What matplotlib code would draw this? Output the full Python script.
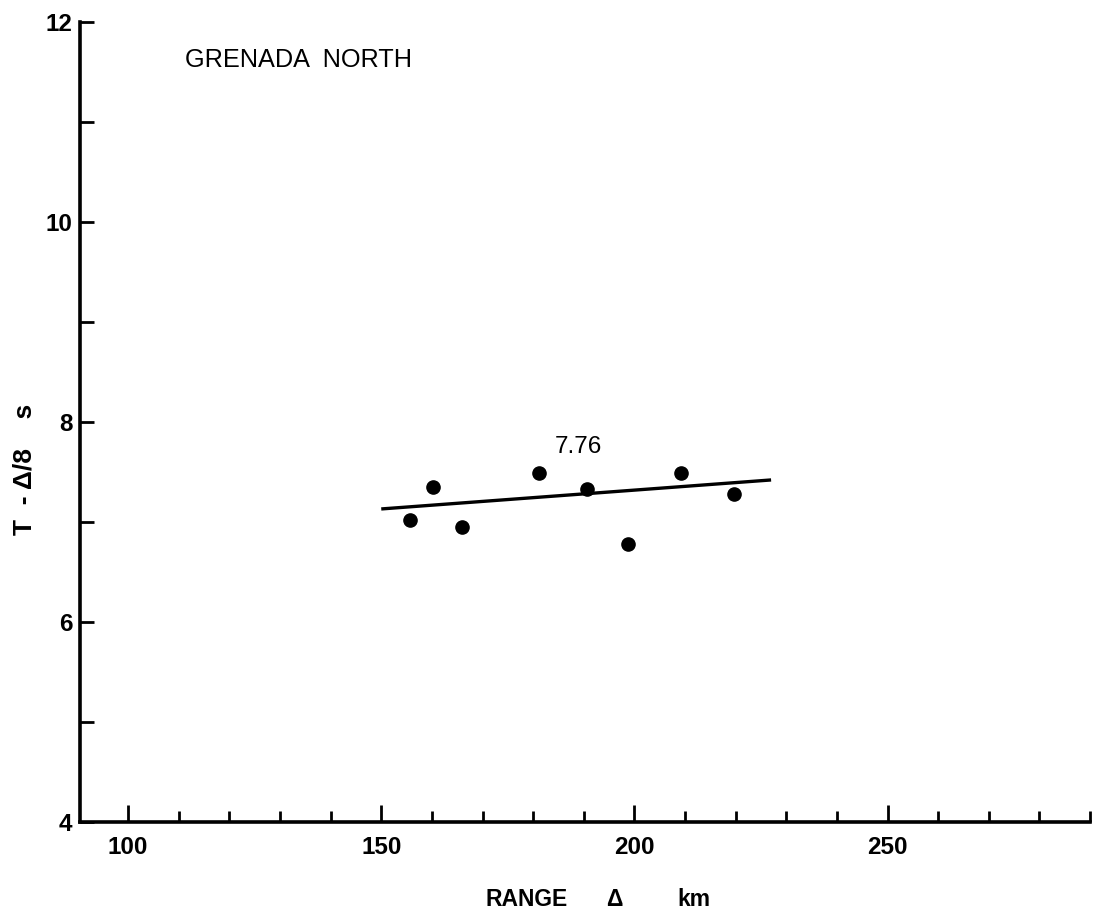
import matplotlib
matplotlib.use("Agg")
import matplotlib.pyplot as plt
from matplotlib.ticker import FixedLocator

# Travel-time observations, Grenada north profile
range_km = [155.6, 160.2, 165.9, 181.2, 190.6, 198.8, 209.2, 219.7]
reduced_time = [7.02, 7.35, 6.95, 7.49, 7.33, 6.78, 7.49, 7.28]

# Fitted line (apparent velocity 7.76 km/s)
fit_range = [150.0, 227.0]
fit_time = [7.13, 7.42]
fit_label = "7.76"

x_major = [100, 150, 200, 250]
x_minor = [110, 120, 130, 140, 160, 170, 180, 190,
           210, 220, 230, 240, 260, 270, 280, 290]
y_major = [4, 6, 8, 10, 12]
y_minor = [5, 7, 9, 11]

FONT = ["Liberation Sans", "DejaVu Sans"]
plt.rcParams["font.family"] = FONT

fig = plt.figure(figsize=(10.93, 9.14), dpi=100)
ax = fig.add_axes([0.0732, 0.1007, 0.9241, 0.8753])

ax.plot(fit_range, fit_time, color="black", lw=2.4, solid_capstyle="butt")
ax.plot(range_km, reduced_time, "o", color="black", ms=9.5, zorder=3)
ax.text(188.9, 7.75, fit_label, fontsize=17.5, ha="center", va="center")
ax.text(111.3, 11.62, "GRENADA  NORTH", fontsize=18.2, ha="left", va="center")

ax.set_xlim(90.5, 290)
ax.set_ylim(4, 12)

for side in ("top", "right"):
    ax.spines[side].set_visible(False)
for side in ("left", "bottom"):
    ax.spines[side].set_linewidth(2.6)
    ax.spines[side].set_capstyle("projecting")

ax.xaxis.set_major_locator(FixedLocator(x_major))
ax.xaxis.set_minor_locator(FixedLocator(x_minor))
ax.yaxis.set_major_locator(FixedLocator(y_major))
ax.yaxis.set_minor_locator(FixedLocator(y_minor))

ax.tick_params(axis="x", which="major", direction="in", length=12, width=2,
               labelsize=17.5, pad=10)
ax.tick_params(axis="x", which="minor", direction="in", length=8, width=2)
ax.tick_params(axis="y", which="both", direction="in", length=10, width=2,
               labelsize=17.5, pad=5.5)
for lab in ax.get_xticklabels() + ax.get_yticklabels():
    lab.set_fontweight("bold")

# Axis titles
fig.text(527 / 1093, 1 - 899 / 914, "RANGE", fontsize=16.5, fontweight="bold",
         ha="center", va="center")
fig.text(614 / 1093, 1 - 899 / 914, "Δ", fontsize=16.5, fontweight="bold",
         ha="center", va="center")
fig.text(694 / 1093, 1 - 899 / 914, "km", fontsize=16.5, fontweight="bold",
         ha="center", va="center")
fig.text(25 / 1093, 1 - 469 / 914, "T  - Δ/8    s", fontsize=19, fontweight="bold",
         rotation=90, ha="center", va="center")

fig.savefig("out.png", dpi=100)
